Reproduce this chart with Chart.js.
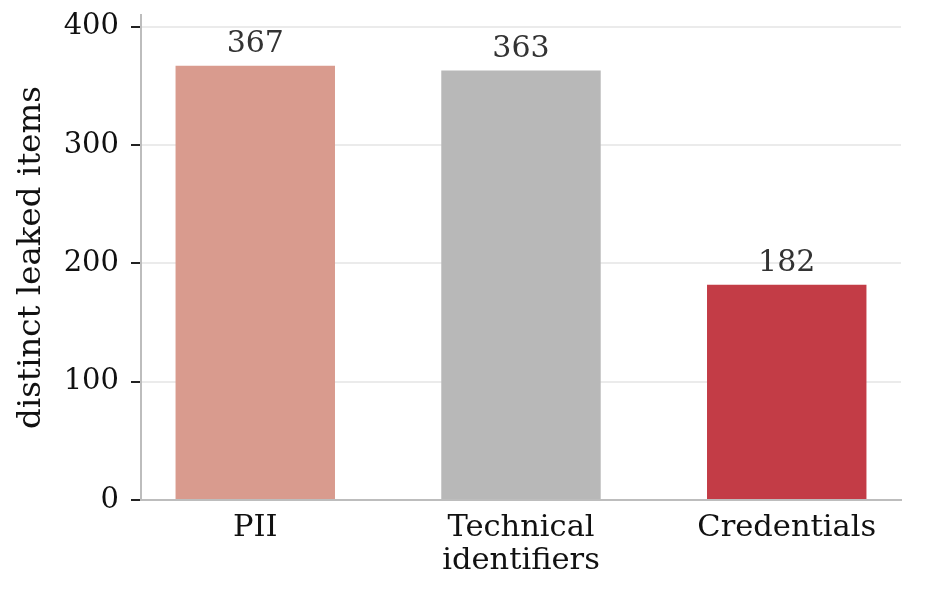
<!DOCTYPE html>
<html>
<head>
<meta charset="utf-8">
<script src="https://cdn.jsdelivr.net/npm/chart.js@4.4.0/dist/chart.umd.min.js"></script>
<style>
  html, body { margin: 0; padding: 0; background: #fff; }
  #wrap { width: 942px; height: 592px; position: relative; }
</style>
</head>
<body>
<div id="wrap"><canvas id="leakChart"></canvas></div>
<script>
// ===== Data =====
const categories = [["PII"], ["Technical", "identifiers"], ["Credentials"]];
const leakedItems = [367, 363, 182];
const barColors = ["#d99b8e", "#b8b8b8", "#c33c46"];
const yTicks = [0, 100, 200, 300, 400];

const serif = "'DejaVu Serif', serif";

// ===== Value labels above bars =====
const valueLabels = {
    id: "valueLabels",
    afterDatasetsDraw(chart) {
        const ctx = chart.ctx;
        const meta = chart.getDatasetMeta(0);
        ctx.save();
        ctx.font = "30px " + serif;
        ctx.fillStyle = "#333";
        ctx.textAlign = "center";
        ctx.textBaseline = "alphabetic";
        meta.data.forEach((bar, i) => {
            ctx.fillText(String(leakedItems[i]), bar.x, bar.y - 14);
        });
        ctx.restore();
    }
};

// drop the automatic half-label padding so the plot box sits where we want it
function noScalePadding(scale) {
    scale.paddingTop = 0;
    scale.paddingBottom = 0;
    scale.paddingLeft = 0;
    scale.paddingRight = 0;
}

new Chart(document.getElementById("leakChart").getContext("2d"), {
    type: "bar",
    data: {
        datasets: [{
            data: leakedItems.map((v, i) => ({ x: i, y: v })),
            backgroundColor: barColors,
            borderWidth: 0,
            barPercentage: 0.6,
            categoryPercentage: 1.0
        }]
    },
    options: {
        responsive: true,
        maintainAspectRatio: false,
        animation: false,
        layout: { padding: { top: 15, right: 41, left: 0, bottom: 0 } },
        plugins: {
            legend: { display: false },
            tooltip: { enabled: false }
        },
        scales: {
            x: {
                type: "linear",
                offset: false,
                min: -0.43,
                max: 2.43,
                afterBuildTicks: scale => {
                    scale.ticks = categories.map((c, i) => ({ value: i }));
                },
                afterFit: scale => { noScalePadding(scale); scale.height = 92; },
                ticks: {
                    callback: (value) => categories[value],
                    font: { family: serif, size: 30.5, lineHeight: 1.1 },
                    color: "#111",
                    padding: 11,
                    maxRotation: 0,
                    autoSkip: false
                },
                grid: { drawOnChartArea: false, drawTicks: false, color: "rgba(0,0,0,0)" },
                border: { display: true, color: "#bdbdbd", width: 2 }
            },
            y: {
                min: 0,
                max: 410,
                afterBuildTicks: scale => {
                    scale.ticks = yTicks.map(v => ({ value: v }));
                },
                afterFit: scale => { noScalePadding(scale); scale.width = 141; },
                ticks: {
                    font: { family: serif, size: 29 },
                    color: "#111",
                    padding: 12
                },
                grid: {
                    color: "#ebebeb",
                    lineWidth: 2,
                    tickColor: "#222",
                    tickLength: 10,
                    tickWidth: 2
                },
                border: { display: true, color: "#bdbdbd", width: 2 },
                title: {
                    display: true,
                    text: "distinct leaked items",
                    font: { family: serif, size: 32.5 },
                    color: "#111",
                    padding: { top: 12, bottom: 0 }
                }
            }
        }
    },
    plugins: [valueLabels]
});
</script>
</body>
</html>
